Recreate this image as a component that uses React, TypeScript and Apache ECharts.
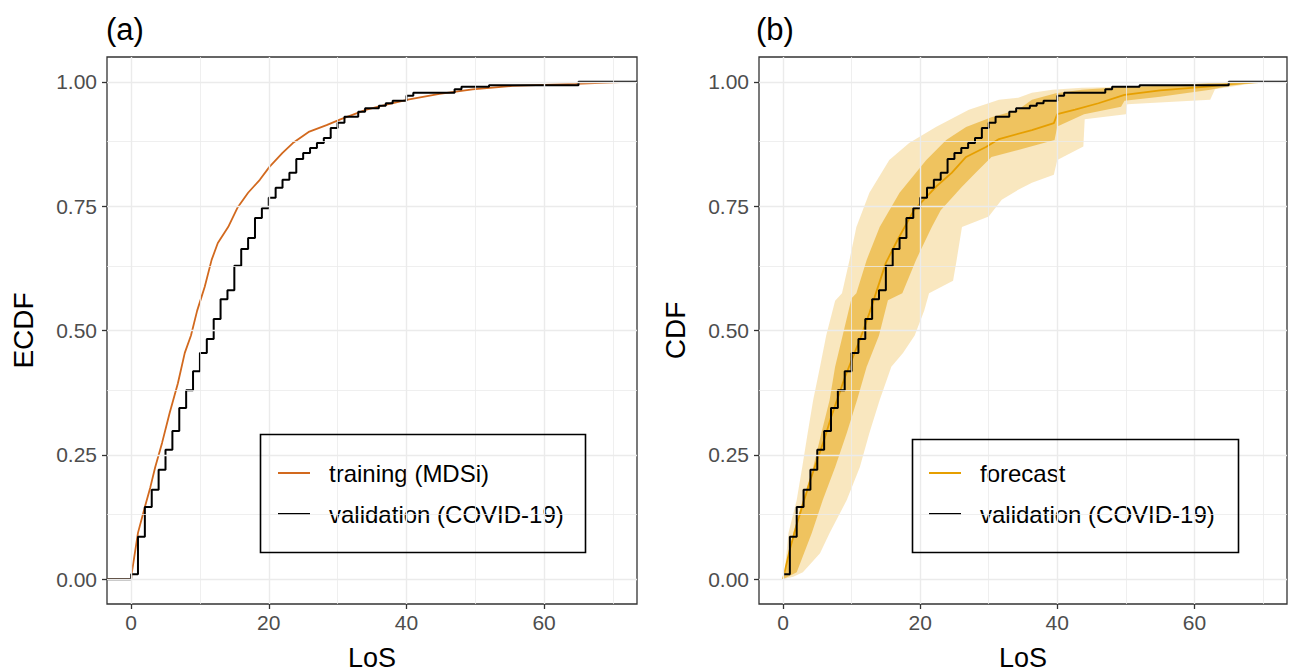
import React, { useEffect, useRef } from "react";
import * as echarts from "echarts";

// ---------- data ----------
const X_MAJOR = [0, 20, 40, 60];
const X_MINOR = [10, 30, 50, 70];
const Y_MAJOR = [0, 0.25, 0.5, 0.75, 1];
const Y_MINOR = [0.125, 0.375, 0.625, 0.875];

// validation (COVID-19) ECDF: [LoS, F]
const VALIDATION: number[][] = [
  [-3.5, 0], [0, 0.01], [1, 0.085], [2, 0.145], [3, 0.18], [4, 0.22], [5, 0.26], [6, 0.298],
  [7, 0.344], [8, 0.38], [9, 0.418], [10, 0.455], [11, 0.483], [12, 0.523], [13, 0.563],
  [14, 0.581], [15, 0.63], [16, 0.664], [17, 0.686], [18, 0.726], [19, 0.746], [20, 0.767],
  [21, 0.787], [22, 0.803], [23, 0.817], [24, 0.845], [25, 0.857], [26, 0.867], [27, 0.877],
  [28, 0.887], [29, 0.907], [30, 0.918], [31, 0.93], [33, 0.94], [34, 0.947], [36, 0.952],
  [37, 0.957], [38, 0.962], [40, 0.972], [41, 0.978], [47, 0.985], [48, 0.99], [52, 0.993],
  [65, 1], [73.5, 1],
];

// training (MDSi) ECDF
const TRAINING: number[][] = [
  [-3.5, 0], [0, 0], [0.1, 0.012], [1, 0.093], [2, 0.145], [2.8, 0.185], [3.5, 0.225],
  [4.5, 0.274], [5.6, 0.334], [6.8, 0.394], [7.8, 0.455], [8.7, 0.49], [9.6, 0.54],
  [10.7, 0.588], [11.7, 0.642], [12.6, 0.676], [14.1, 0.708], [15.5, 0.748], [17, 0.777],
  [18.7, 0.803], [20.1, 0.829], [22, 0.857], [23.5, 0.877], [25.9, 0.9], [28.4, 0.913],
  [30.5, 0.925], [34.2, 0.944], [37.1, 0.954], [40.4, 0.965], [44.8, 0.976], [49.6, 0.985],
  [55.4, 0.992], [64.6, 0.996], [72, 1], [73.5, 1],
];

// forecast median CDF
const FORECAST: number[][] = [
  [0, 0], [1, 0.06], [2, 0.11], [3, 0.155], [4, 0.2], [5, 0.24], [6, 0.28], [7, 0.325],
  [8, 0.365], [9, 0.405], [10, 0.44], [11.2, 0.481], [12.6, 0.535], [15, 0.636], [16.7, 0.682],
  [19.1, 0.742], [22.3, 0.789], [24.6, 0.817], [26.7, 0.849], [29.6, 0.869], [31.5, 0.885],
  [36.3, 0.903], [39.5, 0.917], [40, 0.935], [42.6, 0.944], [46, 0.957], [49.8, 0.974],
  [55, 0.983], [62.3, 0.991], [65.2, 0.996], [70, 1], [73.5, 1],
];

// 95% band edges
const OUTER_UPPER: number[][] = [
  [0, 0], [0.3, 0.024], [0.8, 0.093], [2, 0.159], [2.8, 0.225], [3.6, 0.294], [4.4, 0.36],
  [5.4, 0.427], [6.3, 0.49], [7.6, 0.56], [8.6, 0.575], [9.7, 0.642], [10.7, 0.708],
  [12.6, 0.777], [15.5, 0.843], [18.4, 0.877], [22.3, 0.909], [27.1, 0.944], [31.5, 0.964],
  [34.3, 0.968], [36.3, 0.978], [39.3, 0.984], [43.6, 0.988], [50.9, 0.99], [60.4, 0.994],
  [66, 1], [70, 1],
];
const OUTER_LOWER: number[][] = [
  [0, 0], [1.5, 0.005], [2.9, 0.014], [5.4, 0.052], [6.8, 0.093], [9.3, 0.159], [11.2, 0.225],
  [12.6, 0.294], [14.1, 0.36], [15.8, 0.427], [17.5, 0.455], [19.2, 0.49], [20.6, 0.54],
  [21.3, 0.575], [24.8, 0.6], [25.3, 0.64], [26.1, 0.708], [30, 0.729], [31.9, 0.763],
  [34.3, 0.783], [36.3, 0.797], [39.5, 0.813], [40, 0.843], [43.8, 0.87], [44, 0.925],
  [50, 0.935], [50.2, 0.955], [62.3, 0.964], [63, 0.985], [70, 1],
];
// 50% band edges
const INNER_UPPER: number[][] = [
  [0, 0], [0.3, 0.014], [1.5, 0.093], [2.9, 0.159], [4.4, 0.225], [5.6, 0.294], [6.8, 0.36],
  [7.6, 0.427], [8.7, 0.49], [10, 0.565], [10.7, 0.575], [12.2, 0.642], [14.1, 0.708],
  [17, 0.777], [20.9, 0.843], [23.8, 0.883], [26.7, 0.909], [30.4, 0.929], [34.3, 0.944],
  [36.3, 0.964], [39.8, 0.977], [43.6, 0.984], [49.8, 0.99], [55.6, 0.992], [65, 1], [70, 1],
];
const INNER_LOWER: number[][] = [
  [0, 0], [2, 0.014], [4.2, 0.093], [5.8, 0.159], [7.6, 0.225], [9.3, 0.294], [10.8, 0.36],
  [12.2, 0.427], [14, 0.49], [15.3, 0.561], [17.4, 0.575], [19.4, 0.642], [21.7, 0.708],
  [23, 0.742], [26.1, 0.789], [28.1, 0.817], [30.4, 0.849], [34.3, 0.863], [39.6, 0.883],
  [40, 0.91], [43.9, 0.935], [49.3, 0.95], [49.8, 0.962], [55, 0.97], [62.3, 0.984],
  [65.2, 0.992], [70, 1],
];

const FONT = "'Liberation Sans', Arial, Helvetica, sans-serif";

function gridSeries(idx: number) {
  const major = { width: 1.4, color: "#ebebeb", type: "solid" };
  const minor = { width: 0.8, color: "#ebebeb", type: "solid" };
  return {
    type: "line",
    xAxisIndex: idx,
    yAxisIndex: idx,
    data: [[0, 0]],
    showSymbol: false,
    silent: true,
    z: 0,
    lineStyle: { opacity: 0 },
    markLine: {
      silent: true,
      symbol: "none",
      animation: false,
      label: { show: false },
      data: [
        ...X_MINOR.map((v) => ({ xAxis: v, lineStyle: minor })),
        ...Y_MINOR.map((v) => ({ yAxis: v, lineStyle: minor })),
        ...X_MAJOR.map((v) => ({ xAxis: v, lineStyle: major })),
        ...Y_MAJOR.map((v) => ({ yAxis: v, lineStyle: major })),
      ],
    },
  };
}

function bandSeries(idx: number, upper: number[][], lower: number[][], fill: string, z: number) {
  return {
    type: "custom",
    xAxisIndex: idx,
    yAxisIndex: idx,
    data: [[0, 0]],
    silent: true,
    z,
    renderItem: (_params: any, api: any) => {
      const pts = [
        ...upper.map((p) => api.coord(p)),
        ...lower.slice().reverse().map((p) => api.coord(p)),
      ];
      return { type: "polygon", shape: { points: pts }, style: { fill, stroke: "none" } };
    },
  };
}

function xAxis(idx: number) {
  return {
    type: "value",
    gridIndex: idx,
    min: -3.5,
    max: 73.5,
    name: "LoS",
    nameLocation: "middle",
    nameGap: 40,
    nameTextStyle: { fontSize: 27, color: "#000", fontFamily: FONT },
    axisLine: { show: false, onZero: false },
    axisTick: { show: true, length: 5, lineStyle: { color: "#333", width: 1.3 }, customValues: X_MAJOR },
    axisLabel: { customValues: X_MAJOR, fontSize: 21, color: "#4d4d4d", margin: 8, fontFamily: FONT },
    splitLine: { show: false },
  };
}

function yAxis(idx: number, name: string) {
  return {
    type: "value",
    gridIndex: idx,
    min: -0.05,
    max: 1.05,
    name,
    nameLocation: "middle",
    nameGap: 70,
    nameTextStyle: { fontSize: 28, color: "#000", fontFamily: FONT },
    axisLine: { show: false, onZero: false },
    axisTick: { show: true, length: 5, lineStyle: { color: "#333", width: 1.3 }, customValues: Y_MAJOR },
    axisLabel: {
      customValues: Y_MAJOR,
      fontSize: 21,
      color: "#4d4d4d",
      margin: 10,
      fontFamily: FONT,
      formatter: (v: number) => v.toFixed(2),
    },
    splitLine: { show: false },
  };
}

function legend(left: number, names: string[]) {
  return {
    orient: "vertical",
    left,
    top: 461,
    padding: 0,
    itemGap: 17,
    itemWidth: 32,
    itemHeight: 2,
    icon: "rect",
    selectedMode: false,
    data: names,
    textStyle: { fontSize: 24, color: "#000", fontFamily: FONT, lineHeight: 22, padding: [0, 0, 0, 14] },
  };
}

export default function App() {
  const ref = useRef<HTMLDivElement>(null);
  useEffect(() => {
    if (!ref.current) return;
    const chart = echarts.init(ref.current, undefined, { renderer: "svg" });
    const titleStyle = { fontSize: 31, fontWeight: "normal", color: "#000", fontFamily: FONT };
    const option: any = {
      animation: false,
      backgroundColor: "#fff",
      textStyle: { fontFamily: FONT },
      title: [
        { text: "(a)", left: 106, top: 14, padding: 0, textStyle: titleStyle },
        { text: "(b)", left: 756, top: 14, padding: 0, textStyle: titleStyle },
      ],
      grid: [
        { left: 107, top: 57, width: 530, height: 547, show: true, borderColor: "#333", borderWidth: 1.3, backgroundColor: "transparent", containLabel: false, outerBoundsMode: "none" },
        { left: 759, top: 57, width: 528, height: 547, show: true, borderColor: "#333", borderWidth: 1.3, backgroundColor: "transparent", containLabel: false, outerBoundsMode: "none" },
      ],
      xAxis: [xAxis(0), xAxis(1)],
      yAxis: [yAxis(0, "ECDF"), yAxis(1, "CDF")],
      legend: [
        legend(278, ["training (MDSi)", "validation (COVID-19)"]),
        legend(929, ["forecast", "validation (COVID-19)"]),
      ],
      graphic: [
        { type: "rect", left: 258, top: 432, shape: { width: 325, height: 118 }, style: { fill: "none", stroke: "#000", lineWidth: 1.6 }, z: 100 },
        { type: "rect", left: 910, top: 437, shape: { width: 326, height: 113 }, style: { fill: "none", stroke: "#000", lineWidth: 1.6 }, z: 100 },
      ],
      series: [
        gridSeries(0),
        {
          name: "training (MDSi)",
          type: "line",
          xAxisIndex: 0,
          yAxisIndex: 0,
          data: TRAINING,
          showSymbol: false,
          z: 3,
          color: "#D2691E",
          lineStyle: { color: "#D2691E", width: 1.8 },
        },
        {
          name: "validation (COVID-19)",
          type: "line",
          xAxisIndex: 0,
          yAxisIndex: 0,
          step: "end",
          data: VALIDATION,
          showSymbol: false,
          z: 4,
          color: "#000",
          lineStyle: { color: "#000", width: 2 },
        },
        gridSeries(1),
        bandSeries(1, OUTER_UPPER, OUTER_LOWER, "rgba(230,159,0,0.25)", 1),
        bandSeries(1, INNER_UPPER, INNER_LOWER, "rgba(230,159,0,0.5)", 2),
        {
          name: "forecast",
          type: "line",
          xAxisIndex: 1,
          yAxisIndex: 1,
          data: FORECAST,
          showSymbol: false,
          z: 3,
          color: "#E69F00",
          lineStyle: { color: "#E69F00", width: 1.8 },
        },
        {
          name: "validation (COVID-19)",
          type: "line",
          xAxisIndex: 1,
          yAxisIndex: 1,
          step: "end",
          data: VALIDATION.slice(1),
          showSymbol: false,
          z: 4,
          color: "#000",
          lineStyle: { color: "#000", width: 2 },
        },
      ],
    };
    chart.setOption(option);
    return () => chart.dispose();
  }, []);
  return (
    <div
      ref={ref}
      style={{ position: "fixed", left: 0, top: 0, width: 1293, height: 672, background: "#fff" }}
    />
  );
}
